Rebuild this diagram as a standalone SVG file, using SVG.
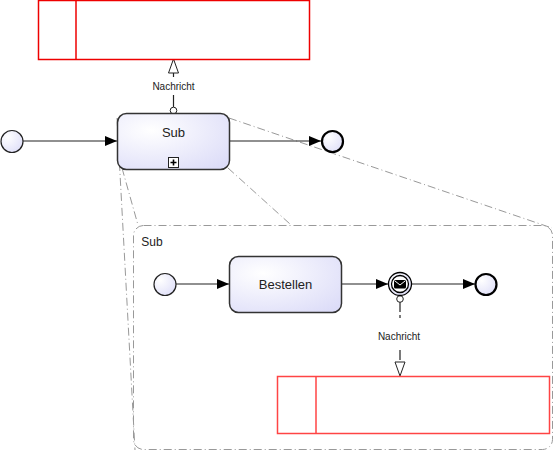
<svg xmlns="http://www.w3.org/2000/svg" width="555" height="452" viewBox="0 0 555 452">
<defs>
<radialGradient id="fillg" cx="0.3" cy="0.3" r="0.9">
<stop offset="0" stop-color="#ffffff"/>
<stop offset="1" stop-color="#dcdcf8"/>
</radialGradient>
<marker id="arr" markerWidth="12" markerHeight="10" refX="12" refY="5" orient="auto" markerUnits="userSpaceOnUse">
<path d="M0,0 L12,5 L0,10 Z" fill="#000"/>
</marker>
<marker id="harr" markerWidth="16" markerHeight="12" refX="15" refY="6" orient="auto" markerUnits="userSpaceOnUse">
<path d="M1,1 L15,6 L1,11 Z" fill="#fff" stroke="#222" stroke-width="1"/>
</marker>
</defs>
<style>
.task{fill:url(#fillg);stroke:#333;stroke-width:1.5}
.ev{fill:url(#fillg);stroke:#222;stroke-width:1.2}
.end{fill:url(#fillg);stroke:#000;stroke-width:2.2}
.pool{fill:#fff;stroke:#e00;stroke-width:1.5}
.flow{stroke:#222;stroke-width:1.2;fill:none}
.zoom{stroke:#999;stroke-width:1;fill:none;stroke-dasharray:8 3 1 3}
.lbl{font-family:"Liberation Sans",Arial,sans-serif;font-size:13px;fill:#222;text-anchor:middle}
.small{font-family:"Liberation Sans",Arial,sans-serif;font-size:10px;fill:#222;text-anchor:middle}
</style>
<g id="connectors">
<line class="zoom" x1="117" y1="118" x2="135" y2="450"/>
<line class="zoom" x1="122" y1="168" x2="138" y2="225"/>
<line class="zoom" x1="229" y1="118" x2="552" y2="228"/>
<line class="zoom" x1="228" y1="168" x2="290" y2="224"/>
<line class="flow" x1="23" y1="141" x2="117" y2="141" marker-end="url(#arr)"/>
<line class="flow" x1="230" y1="141" x2="321" y2="141" marker-end="url(#arr)"/>
<line class="flow" x1="173.5" y1="107" x2="173.5" y2="95"/>
<line class="flow" x1="173.5" y1="77" x2="173.5" y2="59" marker-end="url(#harr)"/>
<circle cx="173.5" cy="110.5" r="3.3" fill="#fff" stroke="#222" stroke-width="1"/>
<text class="small" x="173.5" y="90">Nachricht</text>
<line class="flow" x1="176" y1="284" x2="229" y2="284" marker-end="url(#arr)"/>
<line class="flow" x1="342" y1="284" x2="388" y2="284" marker-end="url(#arr)"/>
<line class="flow" x1="412" y1="284" x2="475" y2="284" marker-end="url(#arr)"/>
<line class="flow" x1="400" y1="302" x2="400" y2="318" stroke-dasharray="10 3"/>
<line class="flow" x1="400" y1="350" x2="400" y2="376" marker-end="url(#harr)" stroke-dasharray="10 3"/>
<circle cx="400" cy="299" r="3.3" fill="#fff" stroke="#222" stroke-width="1"/>
<text class="small" x="399" y="340">Nachricht</text>
</g>
<g id="pool-top">
<rect class="pool" x="38.5" y="0.5" width="271" height="59"/>
<line x1="76" y1="0.5" x2="76" y2="59.5" stroke="#e00" stroke-width="1.5"/>
</g>
<g id="start">
<circle class="ev" cx="12" cy="141.5" r="11"/>
</g>
<g id="sub">
<rect class="task" x="117.5" y="113.5" width="112" height="56" rx="9"/>
<text class="lbl" x="173.5" y="137">Sub</text>
<rect x="168.5" y="157.5" width="10" height="10" fill="#fff" stroke="#222" stroke-width="1"/>
<path d="M173.5,159.5 V165.5 M170.5,162.5 H176.5" stroke="#000" stroke-width="1.6"/>
</g>
<g id="end">
<circle class="end" cx="332.5" cy="141.5" r="10.5"/>
</g>
<g id="sub-expanded">
<rect class="zoom" x="133.5" y="225.5" width="419" height="224" rx="10" stroke-width="1.3"/>
<text class="lbl" x="152" y="246" style="font-size:12px">Sub</text>
</g>
<g id="inner-start">
<circle class="ev" cx="165" cy="284.5" r="11"/>
</g>
<g id="bestellen">
<rect class="task" x="229.5" y="256.5" width="112" height="56" rx="9"/>
<text class="lbl" x="285.5" y="289">Bestellen</text>
</g>
<g id="msg-event">
<circle cx="400" cy="284" r="11.5" fill="url(#fillg)" stroke="#000" stroke-width="1.3"/>
<circle cx="400" cy="284" r="8.5" fill="#fff" stroke="#000" stroke-width="1.3"/>
<rect x="394" y="280" width="12" height="8.5" rx="1.5" fill="#000"/>
<path d="M395,281 L400,285 L405,281" stroke="#fff" stroke-width="1" fill="none"/>
</g>
<g id="inner-end">
<circle class="end" cx="486" cy="284.5" r="10.5"/>
</g>
<g id="pool-bottom">
<rect class="pool" x="277.5" y="376.5" width="272" height="57" style="stroke:#f44"/>
<line x1="316" y1="376.5" x2="316" y2="433.5" stroke="#f44" stroke-width="1.5"/>
</g>
</svg>
